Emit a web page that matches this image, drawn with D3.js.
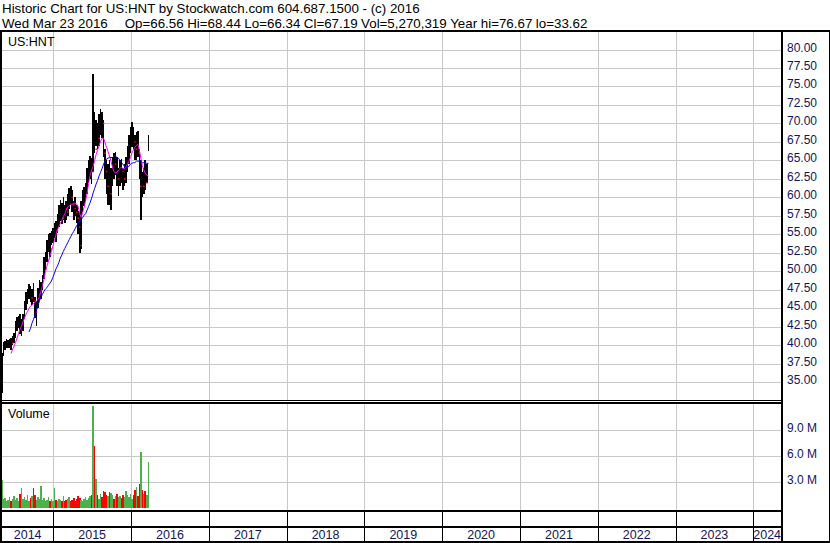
<!DOCTYPE html>
<html><head><meta charset="utf-8">
<script src="https://cdn.jsdelivr.net/npm/d3@7/dist/d3.min.js"></script>
<style>
html,body{margin:0;padding:0;background:#fff;}
svg{display:block;font-family:"Liberation Sans",Arial,sans-serif;}
</style></head>
<body><svg id="c" width="830" height="543"></svg>
<script>
// ---- data ----
const headerLine1 = "Historic Chart for US:HNT by Stockwatch.com 604.687.1500 - (c) 2016";
const headerFields = ["Wed Mar 23 2016","Op=66.56","Hi=68.44","Lo=66.34","Cl=67.19","Vol=5,270,319","Year hi=76.67","lo=33.62"];
const symbol = "US:HNT";
const firstWeek = "2014-05-06";
const lastDay = "2016-03-23";
const highs = [39.0,40.5,40.6,40.8,40.7,40.9,41.0,41.2,41.6,43.3,43.8,44.0,44.2,43.5,44.3,46.0,47.2,47.6,48.3,48.0,47.6,48.4,46.5,46.0,47.8,48.8,48.6,49.5,52.0,52.6,54.3,55.0,55.2,55.5,55.8,56.5,56.8,57.8,59.0,59.6,59.2,60.0,59.0,59.5,60.5,61.3,61.6,61.0,59.5,60.0,59.0,58.2,58.0,59.5,61.0,61.4,62.0,64.0,65.0,65.6,65.3,76.67,71.5,70.5,70.0,71.3,72.0,71.5,70.5,66.5,65.0,64.5,65.0,64.0,65.5,66.0,66.2,65.5,64.0,65.0,65.2,64.0,64.5,65.5,67.0,68.5,69.5,70.2,69.5,68.5,68.8,69.0,66.5,65.0,63.5,64.0,65.0,64.5,68.44];
const lows  = [33.62,38.5,39.4,39.6,39.7,39.6,39.3,40.0,40.3,41.0,42.0,42.4,41.5,41.2,42.0,43.5,44.8,45.6,46.2,45.8,45.5,45.8,43.7,42.6,45.0,46.0,46.3,47.5,49.0,50.2,51.3,52.6,52.0,53.5,53.8,54.5,54.0,55.2,56.0,56.8,56.4,57.0,56.5,57.0,57.5,58.5,59.0,58.0,57.0,57.5,56.5,55.0,52.5,53.0,58.0,58.8,59.5,60.5,62.0,62.5,61.8,63.5,66.0,67.0,66.5,67.0,68.5,68.0,65.5,62.5,60.5,59.0,59.0,58.3,61.5,62.5,63.0,61.5,60.2,61.5,62.0,61.0,61.5,62.0,63.5,64.5,66.0,66.8,66.5,65.0,65.0,65.5,62.5,57.0,60.0,60.5,61.0,62.0,66.34];
const closes= [38.0,39.5,40.0,40.2,40.3,40.5,40.3,40.8,41.2,42.8,43.0,43.3,42.0,42.6,43.8,45.5,46.5,47.0,47.2,46.4,46.8,46.0,44.5,45.5,47.3,47.8,48.0,49.2,51.5,51.8,53.5,54.2,53.0,55.0,55.3,56.0,55.5,57.2,58.2,58.8,57.2,59.6,58.5,58.0,60.0,60.6,60.0,59.0,58.5,58.0,57.2,56.0,53.5,59.0,60.5,60.8,61.5,63.5,64.0,64.5,63.5,67.0,66.5,69.2,68.0,69.8,70.5,70.0,66.0,63.5,61.5,62.5,60.5,62.5,65.0,64.5,65.5,62.5,63.0,64.0,63.5,62.5,63.5,64.8,66.5,68.0,68.5,69.0,67.5,66.5,67.5,66.0,61.5,63.0,61.5,63.5,62.0,63.0,67.19];
const volumesM = [3.2,1.0,1.1,0.8,0.9,1.2,0.8,1.0,1.3,0.9,1.1,0.8,1.6,2.2,1.0,1.2,0.9,1.5,0.8,1.1,1.3,2.2,1.4,0.9,1.2,1.0,2.5,0.9,1.1,0.8,0.9,1.2,0.8,1.0,0.7,2.3,0.9,0.8,1.0,0.9,0.8,1.3,0.7,0.9,1.0,1.2,0.8,0.9,1.1,0.8,1.0,1.3,1.1,0.9,0.8,1.0,1.2,0.9,1.1,1.3,1.5,11.7,7.1,3.3,1.4,1.0,1.6,1.2,1.9,1.8,1.5,1.3,1.8,1.7,1.4,1.0,1.3,1.6,1.2,1.3,1.1,1.5,1.2,1.9,1.4,1.2,1.6,1.0,1.4,2.0,2.4,1.3,2.7,6.4,2.0,1.6,1.9,1.5,5.27];
const maShort = [null,null,null,null,null,null,38.9,39.5,39.9,40.4,41.0,41.6,42.2,42.6,43.2,43.7,44.2,44.6,45.0,45.3,45.4,45.7,45.8,46.0,46.2,46.6,47.3,48.1,48.9,49.9,50.7,51.4,52.0,52.7,53.4,54.2,54.9,55.6,56.1,56.5,56.9,57.4,57.8,58.3,58.7,58.9,59.1,59.1,59.2,59.2,59.1,58.7,57.8,57.3,58.0,58.7,59.6,60.6,61.9,63.0,63.7,64.2,65.0,65.8,66.4,67.0,67.6,68.0,68.0,67.4,66.8,66.2,65.6,64.9,64.1,63.5,63.3,63.4,63.7,63.9,64.1,63.9,63.9,64.1,64.5,64.9,65.4,66.0,66.4,66.8,67.0,67.2,66.4,65.3,64.3,63.7,63.3,63.0,62.9];
const maLong = [null,null,null,null,null,null,null,null,null,null,null,null,null,null,null,null,null,null,41.8,42.3,43.0,43.5,44.1,44.7,45.4,46.0,46.5,46.9,47.3,47.6,47.8,48.1,48.4,48.7,49.2,49.7,50.3,50.7,51.2,51.8,52.2,52.7,53.1,53.5,53.9,54.3,54.7,55.1,55.4,55.8,56.2,56.5,56.8,57.0,57.3,57.6,57.8,58.3,58.8,59.3,59.9,60.6,61.2,61.8,62.3,62.9,63.4,63.9,64.5,64.9,65.2,65.3,65.4,65.4,65.4,65.6,65.6,65.4,65.3,65.0,64.7,64.5,64.2,64.1,64.1,64.2,64.5,64.6,64.7,64.7,64.9,64.9,64.9,64.9,64.7,64.7,64.7,64.6,64.6];
const priceTicks = [35,37.5,40,42.5,45,47.5,50,52.5,55,57.5,60,62.5,65,67.5,70,72.5,75,77.5,80];
const volumeTicksM = [3,6,9];
const years = [2014,2015,2016,2017,2018,2019,2020,2021,2022,2023,2024];

// ---- build rows ----
const parse = d3.timeParse("%Y-%m-%d");
const n = highs.length;
const dates = d3.range(n-1).map(i => d3.timeDay.offset(parse(firstWeek), 7*i));
dates.push(parse(lastDay));
const rows = dates.map((d,i)=>({date:d,h:highs[i],l:lows[i],c:closes[i],v:volumesM[i]*1e6,
  ms:maShort[i],ml:maLong[i],dir: i===0?1:(closes[i]>closes[i-1]?1:(closes[i]<closes[i-1]?-1:0))}));

// ---- layout ----
const L = 2, R = 781, PT = 31, PB = 400, VT = 403, VB = 510, ROW = 527, B = 542;
const svg = d3.select("#c");
const x = d3.scaleTime().domain([new Date(2015,0,1), new Date(2024,0,1)]).range([53.3, 753.3]);
const y = d3.scaleLinear().domain([35,80]).range([382.3, 49.5]);
const yv = d3.scaleLinear().domain([0,3e6]).range([507.5, 481.5]);

// header
svg.append("text").attr("x",2).attr("y",13).attr("font-size",13.33).attr("fill","#000").text(headerLine1);
let cx = 2;
headerFields.forEach((f,i)=>{
  const t = svg.append("text").attr("x",cx).attr("y",28).attr("font-size",13.33).attr("fill","#000").text(f);
  cx += t.node().getComputedTextLength() + (i===0 ? 17 : 3.5);
});

// gridlines
const grid = svg.append("g").attr("stroke","#c8c8c8").attr("stroke-width",1).attr("shape-rendering","crispEdges");
const yearBounds = years.slice(1).map(yv_=>new Date(yv_,0,1));
yearBounds.forEach(d=>{
  const xx = Math.round(x(d))+0.5;
  grid.append("line").attr("x1",xx).attr("x2",xx).attr("y1",PT).attr("y2",PB);
  grid.append("line").attr("x1",xx).attr("x2",xx).attr("y1",VT).attr("y2",VB);
});
priceTicks.forEach(p=>{
  const yy = Math.round(y(p))+0.5;
  grid.append("line").attr("x1",L).attr("x2",R).attr("y1",yy).attr("y2",yy);
});
volumeTicksM.forEach(v=>{
  const yy = Math.round(yv(v*1e6))+0.5;
  grid.append("line").attr("x1",L).attr("x2",R).attr("y1",yy).attr("y2",yy);
});

// clip paths
const defs = svg.append("defs");
defs.append("clipPath").attr("id","cp").append("rect").attr("x",L).attr("y",PT).attr("width",R-L).attr("height",PB-PT);
defs.append("clipPath").attr("id","cv").append("rect").attr("x",L).attr("y",VT).attr("width",R-L).attr("height",VB-VT);

// volume bars
const vg = svg.append("g").attr("clip-path","url(#cv)").attr("shape-rendering","crispEdges");
vg.selectAll("rect").data(rows).join("rect")
  .attr("x",d=>x(d.date)-0.8).attr("width",1.6)
  .attr("y",d=>yv(d.v)).attr("height",d=>yv(0)-yv(d.v))
  .attr("fill",d=>d.dir>0?"#4cb04c":(d.dir<0?"#ff0000":"#a0a0a0"));

// price bars
const pg = svg.append("g").attr("clip-path","url(#cp)");
pg.append("g").attr("shape-rendering","crispEdges").selectAll("rect").data(rows).join("rect")
  .attr("x",d=>x(d.date)-0.8).attr("width",1.6)
  .attr("y",d=>y(d.h)).attr("height",d=>Math.max(1,y(d.l)-y(d.h)))
  .attr("fill","#000");
pg.append("g").selectAll("rect").data(rows.filter(d=>d.dir<0)).join("rect")
  .attr("x",d=>x(d.date)+0.8).attr("width",1.5)
  .attr("y",d=>y(d.c)-0.75).attr("height",1.5).attr("fill","#ff0000");

const lineS = d3.line().defined(d=>d.ms!=null).x(d=>x(d.date)).y(d=>y(d.ms));
const lineL = d3.line().defined(d=>d.ml!=null).x(d=>x(d.date)).y(d=>y(d.ml));
pg.append("path").datum(rows).attr("d",lineS).attr("fill","none").attr("stroke","#ff00ff").attr("stroke-width",1);
pg.append("path").datum(rows).attr("d",lineL).attr("fill","none").attr("stroke","#0000ff").attr("stroke-width",1);

// labels inside panels
svg.append("text").attr("x",8).attr("y",46).attr("font-size",12.5).text(symbol);
svg.append("text").attr("x",8).attr("y",418).attr("font-size",12.5).text("Volume");

// axis labels right
const axisCol = "#14145a";
svg.append("g").selectAll("text").data(priceTicks).join("text")
  .attr("x",787).attr("y",d=>y(d)+2).attr("font-size",12).attr("fill",axisCol)
  .text(d=>d3.format(".2f")(d));
svg.append("g").selectAll("text").data(volumeTicksM).join("text")
  .attr("x",787).attr("y",d=>yv(d*1e6)+2).attr("font-size",12).attr("fill",axisCol)
  .text(d=>d3.format(".1f")(d)+" M");

// year labels
const yrs = years.map(yr=>{
  const a = Math.max(L, x(new Date(yr,0,1))), b = Math.min(R, x(new Date(yr+1,0,1)));
  return {yr, a, b};
});
svg.append("g").selectAll("text").data(yrs).join("text")
  .attr("x",d=>(d.a+d.b)/2).attr("y",539).attr("text-anchor","middle").attr("font-size",12.5).attr("fill",axisCol)
  .text(d=>d.yr);

// frame lines
const fr = svg.append("g").attr("stroke","#000").attr("fill","none").attr("shape-rendering","crispEdges");
fr.append("line").attr("x1",0).attr("x2",830).attr("y1",30.5).attr("y2",30.5).attr("stroke-width",2);
fr.append("line").attr("x1",1).attr("x2",1).attr("y1",30).attr("y2",543).attr("stroke-width",2);
fr.append("line").attr("x1",829.5).attr("x2",829.5).attr("y1",30).attr("y2",543).attr("stroke-width",1);
fr.append("line").attr("x1",0).attr("x2",830).attr("y1",542).attr("y2",542).attr("stroke-width",2);
fr.append("line").attr("x1",781.5).attr("x2",781.5).attr("y1",30).attr("y2",543).attr("stroke-width",2);
fr.append("line").attr("x1",0).attr("x2",R).attr("y1",400.5).attr("y2",400.5).attr("stroke-width",1.5);
fr.append("line").attr("x1",0).attr("x2",R).attr("y1",403).attr("y2",403).attr("stroke-width",1.5);
fr.append("line").attr("x1",0).attr("x2",R).attr("y1",510.5).attr("y2",510.5).attr("stroke-width",2);
fr.append("line").attr("x1",0).attr("x2",R).attr("y1",527).attr("y2",527).attr("stroke-width",2);
yearBounds.forEach(d=>{
  const xx = Math.round(x(d))+0.5;
  fr.append("line").attr("x1",xx).attr("x2",xx).attr("y1",510).attr("y2",542).attr("stroke-width",1.5);
});
</script></body></html>
